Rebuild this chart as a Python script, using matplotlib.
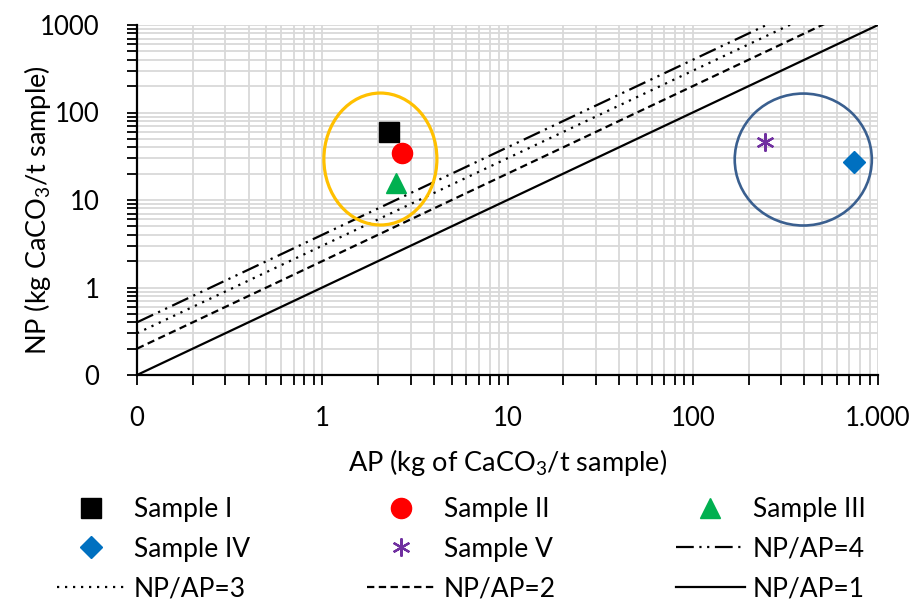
import matplotlib
matplotlib.use("Agg")
import matplotlib.pyplot as plt
from matplotlib.lines import Line2D
from matplotlib.patches import Ellipse
from matplotlib.ticker import FixedLocator, FixedFormatter, LogLocator, NullFormatter
import numpy as np

plt.rcParams['font.family'] = ['Lato', 'DejaVu Sans']
plt.rcParams['mathtext.fontset'] = 'custom'
plt.rcParams['mathtext.rm'] = 'Lato'
plt.rcParams['mathtext.it'] = 'Lato:italic'

# ---- data ----
sample_names = ["Sample I", "Sample II", "Sample III", "Sample IV", "Sample V"]
sample_ap = [2.3, 2.7, 2.5, 740, 245]
sample_np = [60, 34.5, 15.6, 27, 46]
sample_markers = ["s", "o", "^", "D", (6, 2, 0)]
sample_colors = ["#000000", "#FF0000", "#00B050", "#0070C0", "#7030A0"]
sample_sizes = [14, 14.5, 15, 11, 13]

ratios = [4, 3, 2, 1]
ratio_labels = ["NP/AP=4", "NP/AP=3", "NP/AP=2", "NP/AP=1"]
ratio_styles = [(0, (8, 2.5, 1, 2.5, 1, 2.5)), (0, (1, 2.6)), (0, (3.3, 2)), "-"]
line_x = [0.1, 1000]

x_ticks = [0.1, 1, 10, 100, 1000]
x_ticklabels = ["0", "1", "10", "100", "1.000"]
y_ticks = [0.1, 1, 10, 100, 1000]
y_ticklabels = ["0", "1", "10", "100", "1000"]

# group outlines (centre in data coords, size in axes fraction)
groups_center = [(2.06, 29.4), (395, 29)]
groups_size = [(0.1525, 0.377), (0.185, 0.377)]
groups_color = ["#FFC000", "#3A5F8F"]
groups_lw = [2.3, 1.9]

FS_TICK = 18.5
FS_LABEL = 19.5
FS_LEG = 19

# ---- figure ----
fig = plt.figure(figsize=(9.17, 6.02), dpi=100)
ax = fig.add_axes([137/917, 1-375/602, (878-137)/917, (375-25)/602])
ax.set_xscale("log")
ax.set_yscale("log")
ax.set_xlim(0.1, 1000)
ax.set_ylim(0.1, 1000)

ax.set_axisbelow(True)
ax.grid(True, which="both", color="#D9D9D9", lw=1.3)
ax.xaxis.set_major_locator(FixedLocator(x_ticks))
ax.xaxis.set_major_formatter(FixedFormatter(x_ticklabels))
ax.yaxis.set_major_locator(FixedLocator(y_ticks))
ax.yaxis.set_major_formatter(FixedFormatter(y_ticklabels))
ax.xaxis.set_minor_locator(LogLocator(base=10, subs=np.arange(2, 10)))
ax.yaxis.set_minor_locator(LogLocator(base=10, subs=np.arange(2, 10)))
ax.xaxis.set_minor_formatter(NullFormatter())
ax.yaxis.set_minor_formatter(NullFormatter())

for s in ["top", "right"]:
    ax.spines[s].set_visible(False)
for s in ["left", "bottom"]:
    ax.spines[s].set_linewidth(1.6)
    ax.spines[s].set_color("black")

ax.tick_params(axis="both", which="both", direction="out", length=7, width=1.3, color="black")
ax.tick_params(axis="x", which="major", pad=15, labelsize=FS_TICK)
ax.tick_params(axis="y", which="major", pad=20, labelsize=FS_TICK)

for r, st in zip(ratios, ratio_styles):
    ax.plot(line_x, [r * v for v in line_x], color="black", lw=1.6, linestyle=st,
            dash_capstyle="butt", zorder=3)

for x, y, m, c, ms in zip(sample_ap, sample_np, sample_markers, sample_colors, sample_sizes):
    if m == (6, 2, 0):
        ax.plot([x], [y], linestyle="none", marker=m, markersize=ms, markeredgecolor=c,
                markeredgewidth=1.6, color=c, zorder=5)
    else:
        ax.plot([x], [y], linestyle="none", marker=m, markersize=ms, color=c,
                markeredgecolor=c, zorder=5)

for (cx, cy), (w, h), col, lw in zip(groups_center, groups_size, groups_color, groups_lw):
    ca = ax.transAxes.inverted().transform(ax.transData.transform((cx, cy)))
    ax.add_patch(Ellipse(ca, w, h, transform=ax.transAxes, fill=False, edgecolor=col,
                         lw=lw, zorder=6, clip_on=False))

ax.set_xlabel("AP (kg of CaCO$_3$/t sample)", fontsize=FS_LABEL, labelpad=12)
ax.set_ylabel("NP (kg CaCO$_3$/t sample)", fontsize=FS_LABEL)
ax.yaxis.set_label_coords(-0.113, 0.47)

# ---- legend (3 columns, row-wise order) ----
def sample_handle(i):
    m = sample_markers[i]
    if m == (6, 2, 0):
        return Line2D([], [], linestyle="none", marker=m, markersize=13,
                      markeredgecolor=sample_colors[i], markeredgewidth=1.6, color=sample_colors[i])
    return Line2D([], [], linestyle="none", marker=m, markersize=sample_sizes[i],
                  color=sample_colors[i], markeredgecolor=sample_colors[i])

def ratio_handle(j):
    return Line2D([], [], color="black", lw=1.6, linestyle=ratio_styles[j], dash_capstyle="butt")

entries = [
    (sample_handle(0), sample_names[0]), (sample_handle(1), sample_names[1]), (sample_handle(2), sample_names[2]),
    (sample_handle(3), sample_names[3]), (sample_handle(4), sample_names[4]), (ratio_handle(0), ratio_labels[0]),
    (ratio_handle(1), ratio_labels[1]), (ratio_handle(2), ratio_labels[2]), (ratio_handle(3), ratio_labels[3]),
]
col_x = [57/917, 367/917, 676/917]
for c in range(3):
    col = entries[c::3]
    leg = fig.legend([e[0] for e in col], [e[1] for e in col], loc="upper left",
                     bbox_to_anchor=(col_x[c], 1 - 497/602), frameon=False, fontsize=FS_LEG,
                     handlelength=2.6, handletextpad=0.3, labelspacing=0.55, borderpad=0,
                     borderaxespad=0)

fig.savefig("out.png", dpi=100)
